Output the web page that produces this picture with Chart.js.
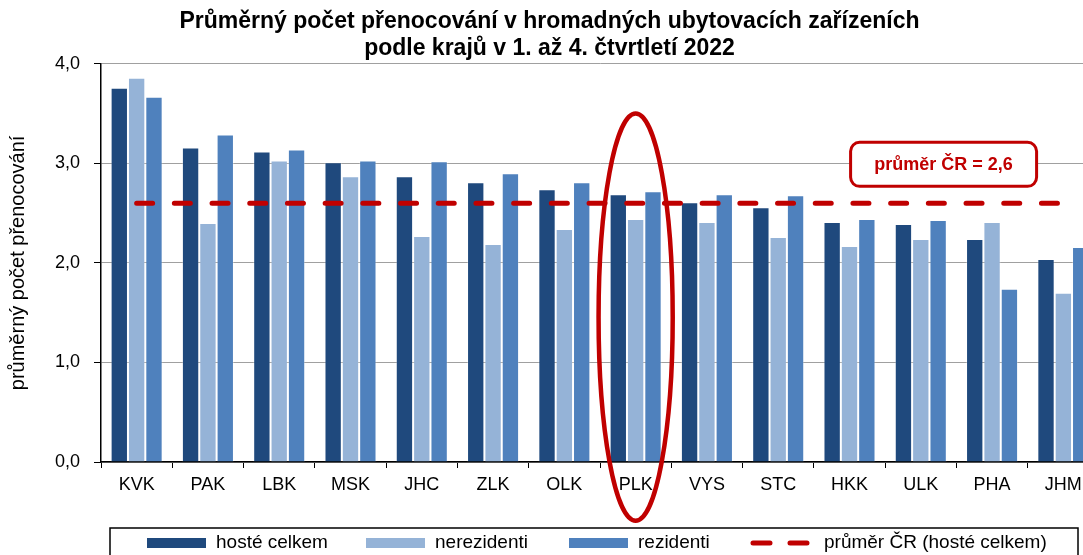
<!DOCTYPE html>
<html lang="cs">
<head>
<meta charset="utf-8">
<title>Průměrný počet přenocování podle krajů</title>
<script src="https://cdn.jsdelivr.net/npm/chart.js@4.4.1/dist/chart.umd.min.js"></script>
<style>
    html, body { margin: 0; padding: 0; background: #fff; overflow: hidden; }
    #wrap { position: relative; width: 1118px; height: 555px; }
</style>
</head>
<body>
<div id="wrap"><canvas id="nightsChart"></canvas></div>
<script>
const regions = ['KVK', 'PAK', 'LBK', 'MSK', 'JHC', 'ZLK', 'OLK', 'PLK', 'VYS', 'STC', 'HKK', 'ULK', 'PHA', 'JHM'];
const guestsTotal = [3.76, 3.16, 3.12, 3.01, 2.87, 2.81, 2.74, 2.69, 2.61, 2.56, 2.41, 2.39, 2.24, 2.04];
const nonResidents = [3.86, 2.40, 3.03, 2.87, 2.27, 2.19, 2.34, 2.44, 2.41, 2.26, 2.17, 2.24, 2.41, 1.70];
const residents = [3.67, 3.29, 3.14, 3.03, 3.02, 2.90, 2.81, 2.72, 2.69, 2.68, 2.44, 2.43, 1.74, 2.16];
const czAverage = 2.6;
const yTicks = [0, 1, 2, 3, 4];

const seriesLabels = ['hosté celkem', 'nerezidenti', 'rezidenti', 'průměr ČR (hosté celkem)'];
const titleLines = ['Průměrný počet přenocování v hromadných ubytovacích zařízeních', 'podle krajů v 1. až 4. čtvrtletí 2022'];
const yTitle = 'průměrný počet přenocování';
const noteText = 'průměr ČR = 2,6';
const highlightRegion = 'PLK';

const theme = {
    dark: '#1F497D',
    light: '#95B3D7',
    mid: '#4F81BD',
    red: '#C00000',
    grid: '#A0A0A0',
    text: '#000000'
};

const FONT = "'Liberation Sans', Arial, sans-serif";
Chart.defaults.font.family = FONT;
Chart.defaults.color = theme.text;

const fmt = (v) => Number(v).toFixed(1).replace('.', ',');

// red ellipse round the highlighted region + the note box
const annotations = {
    id: 'annotations',
    afterDraw(chart) {
        const { ctx, scales: { x, y } } = chart;
        const step = x.getPixelForValue(1) - x.getPixelForValue(0);

        const cx = x.getPixelForValue(regions.indexOf(highlightRegion));
        const top = y.getPixelForValue(3.5);
        const bottom = y.getPixelForValue(-0.59);
        ctx.save();
        ctx.strokeStyle = theme.red;
        ctx.lineWidth = 4.5;
        ctx.beginPath();
        ctx.ellipse(cx, (top + bottom) / 2, step * 0.52, (bottom - top) / 2, 0, 0, Math.PI * 2);
        ctx.stroke();

        const bx = x.getPixelForValue(11.32);
        const by = y.getPixelForValue(2.99);
        const w = 186, h = 44;
        ctx.beginPath();
        ctx.roundRect(bx - w / 2, by - h / 2, w, h, 9);
        ctx.fillStyle = '#fff';
        ctx.fill();
        ctx.lineWidth = 3;
        ctx.stroke();
        ctx.fillStyle = theme.red;
        ctx.font = `bold 18px ${FONT}`;
        ctx.textAlign = 'center';
        ctx.textBaseline = 'middle';
        ctx.fillText(noteText, bx, by + 1);
        ctx.restore();
    }
};

// boxed legend along the bottom edge
const boxLegend = {
    id: 'boxLegend',
    afterDraw(chart) {
        const { ctx } = chart;
        const cy = 543;
        const itemX = [147, 366, 569, 750];
        ctx.save();
        ctx.strokeStyle = '#000';
        ctx.lineWidth = 1.5;
        ctx.strokeRect(110, 528, 968, 40);

        chart.data.datasets.forEach((ds, i) => {
            const x0 = itemX[i];
            if (ds.type === 'line') {
                ctx.strokeStyle = ds.borderColor;
                ctx.lineWidth = 5;
                ctx.lineCap = 'round';
                ctx.beginPath();
                ctx.moveTo(x0 + 3, cy); ctx.lineTo(x0 + 20, cy);
                ctx.moveTo(x0 + 40, cy); ctx.lineTo(x0 + 57, cy);
                ctx.stroke();
            } else {
                ctx.fillStyle = ds.backgroundColor;
                ctx.fillRect(x0, cy - 5, 59, 10);
            }
            ctx.fillStyle = '#000';
            ctx.font = `19px ${FONT}`;
            ctx.textAlign = 'left';
            ctx.textBaseline = 'middle';
            ctx.fillText(ds.label, x0 + (ds.type === 'line' ? 74 : 69), cy);
        });
        ctx.restore();
    }
};

const barDefaults = {
    categoryPercentage: 0.73,
    barPercentage: 1,
    borderWidth: 1,
    borderColor: 'rgba(255, 255, 255, 0.3)',
    order: 1
};

new Chart(document.getElementById('nightsChart'), {
    type: 'bar',
    data: {
        labels: regions,
        datasets: [
            { ...barDefaults, label: seriesLabels[0], data: guestsTotal, backgroundColor: theme.dark },
            { ...barDefaults, label: seriesLabels[1], data: nonResidents, backgroundColor: theme.light },
            { ...barDefaults, label: seriesLabels[2], data: residents, backgroundColor: theme.mid },
            {
                type: 'line',
                label: seriesLabels[3],
                data: regions.map(() => czAverage),
                borderColor: theme.red,
                borderWidth: 5,
                borderDash: [16, 21.7],
                borderCapStyle: 'round',
                pointRadius: 0,
                fill: false,
                order: 0
            }
        ]
    },
    options: {
        responsive: true,
        maintainAspectRatio: false,
        animation: false,
        layout: { padding: { left: 0, right: 19, top: 0, bottom: 53 } },
        plugins: {
            legend: { display: false },
            tooltip: { enabled: false },
            title: {
                display: true,
                text: titleLines,
                color: '#000',
                font: { size: 23, weight: 'bold', lineHeight: 1.17 },
                padding: { top: 8, bottom: 2 }
            }
        },
        scales: {
            x: {
                grid: {
                    display: true,
                    drawOnChartArea: false,
                    drawTicks: true,
                    tickLength: 6,
                    tickColor: '#000',
                    offset: true
                },
                border: { color: '#000', width: 1.5 },
                ticks: { font: { size: 18 }, padding: 6, color: '#000', maxRotation: 0 },
                afterFit(scale) { scale.height = 40; }
            },
            y: {
                min: 0,
                max: 4,
                afterBuildTicks(scale) { scale.ticks = yTicks.map((v) => ({ value: v })); },
                grid: { color: theme.grid, lineWidth: 1, tickColor: '#000', tickLength: 7 },
                border: { color: '#000', width: 1.5 },
                ticks: { font: { size: 18 }, padding: 14, color: '#000', callback: (v) => fmt(v) },
                title: {
                    display: true,
                    text: yTitle,
                    color: '#000',
                    font: { size: 20 },
                    padding: { top: 6, bottom: 0 }
                },
                afterFit(scale) { scale.width = 101; }
            }
        }
    },
    plugins: [annotations, boxLegend]
});
</script>
</body>
</html>
